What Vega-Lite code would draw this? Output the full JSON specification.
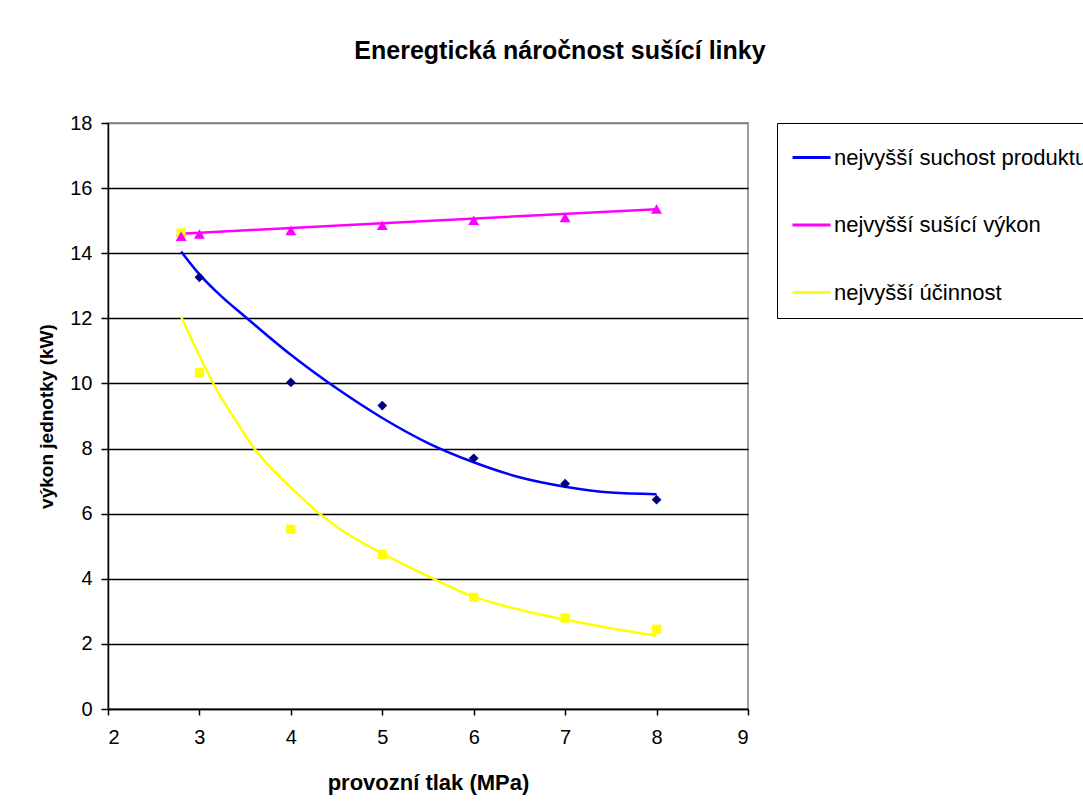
{
  "$schema": "https://vega.github.io/schema/vega-lite/v6.json",
  "width": 640,
  "height": 586,
  "autosize": "none",
  "padding": {"left": 108, "top": 123, "right": 335, "bottom": 99},
  "background": "white",
  "config": {
    "font": "Liberation Sans",
    "view": {"stroke": "#808080", "strokeWidth": 1.5}
  },
  "title": {
    "text": "Eneregtická náročnost sušící linky",
    "font": "Liberation Sans",
    "fontSize": 25,
    "fontWeight": "bold",
    "color": "black",
    "anchor": "middle",
    "frame": "group",
    "baseline": "middle",
    "offset": 37,
    "dx": 132
  },
  "datasets": {
    "pts": [
      {"series": "nejvyšší suchost produktu", "x": 2.8, "y": 14.55},
      {"series": "nejvyšší suchost produktu", "x": 3, "y": 13.26},
      {"series": "nejvyšší suchost produktu", "x": 4, "y": 10.03},
      {"series": "nejvyšší suchost produktu", "x": 5, "y": 9.32},
      {"series": "nejvyšší suchost produktu", "x": 6, "y": 7.7},
      {"series": "nejvyšší suchost produktu", "x": 7, "y": 6.92},
      {"series": "nejvyšší suchost produktu", "x": 8, "y": 6.43},
      {"series": "nejvyšší účinnost", "x": 2.8, "y": 14.62},
      {"series": "nejvyšší účinnost", "x": 3, "y": 10.33},
      {"series": "nejvyšší účinnost", "x": 4, "y": 5.52},
      {"series": "nejvyšší účinnost", "x": 5, "y": 4.75},
      {"series": "nejvyšší účinnost", "x": 6, "y": 3.43},
      {"series": "nejvyšší účinnost", "x": 7, "y": 2.79},
      {"series": "nejvyšší účinnost", "x": 8, "y": 2.45},
      {"series": "nejvyšší sušící výkon", "x": 2.8, "y": 14.52},
      {"series": "nejvyšší sušící výkon", "x": 3, "y": 14.59},
      {"series": "nejvyšší sušící výkon", "x": 4, "y": 14.7},
      {"series": "nejvyšší sušící výkon", "x": 5, "y": 14.86},
      {"series": "nejvyšší sušící výkon", "x": 6, "y": 15.01},
      {"series": "nejvyšší sušící výkon", "x": 7, "y": 15.1},
      {"series": "nejvyšší sušící výkon", "x": 8, "y": 15.36}
    ],
    "trend": [
      {"series": "nejvyšší suchost produktu", "x": 2.8, "y": 14.05},
      {"series": "nejvyšší suchost produktu", "x": 3.0, "y": 13.35},
      {"series": "nejvyšší suchost produktu", "x": 3.25, "y": 12.65},
      {"series": "nejvyšší suchost produktu", "x": 3.5, "y": 12.05},
      {"series": "nejvyšší suchost produktu", "x": 4.0, "y": 10.88},
      {"series": "nejvyšší suchost produktu", "x": 4.5, "y": 9.85},
      {"series": "nejvyšší suchost produktu", "x": 5.0, "y": 8.94},
      {"series": "nejvyšší suchost produktu", "x": 5.5, "y": 8.17},
      {"series": "nejvyšší suchost produktu", "x": 6.0, "y": 7.58},
      {"series": "nejvyšší suchost produktu", "x": 6.5, "y": 7.12},
      {"series": "nejvyšší suchost produktu", "x": 7.0, "y": 6.83},
      {"series": "nejvyšší suchost produktu", "x": 7.5, "y": 6.65},
      {"series": "nejvyšší suchost produktu", "x": 8.0, "y": 6.6},
      {"series": "nejvyšší sušící výkon", "x": 2.8, "y": 14.6},
      {"series": "nejvyšší sušící výkon", "x": 5.0, "y": 14.92},
      {"series": "nejvyšší sušící výkon", "x": 8.0, "y": 15.35},
      {"series": "nejvyšší účinnost", "x": 2.8, "y": 12.05},
      {"series": "nejvyšší účinnost", "x": 3.0, "y": 10.85},
      {"series": "nejvyšší účinnost", "x": 3.2, "y": 9.75},
      {"series": "nejvyšší účinnost", "x": 3.4, "y": 8.85},
      {"series": "nejvyšší účinnost", "x": 3.6, "y": 8.0},
      {"series": "nejvyšší účinnost", "x": 3.8, "y": 7.35},
      {"series": "nejvyšší účinnost", "x": 4.0, "y": 6.8},
      {"series": "nejvyšší účinnost", "x": 4.25, "y": 6.15},
      {"series": "nejvyšší účinnost", "x": 4.5, "y": 5.6},
      {"series": "nejvyšší účinnost", "x": 5.0, "y": 4.78},
      {"series": "nejvyšší účinnost", "x": 5.5, "y": 4.08},
      {"series": "nejvyšší účinnost", "x": 6.0, "y": 3.45},
      {"series": "nejvyšší účinnost", "x": 6.5, "y": 3.05},
      {"series": "nejvyšší účinnost", "x": 7.0, "y": 2.75},
      {"series": "nejvyšší účinnost", "x": 7.5, "y": 2.48},
      {"series": "nejvyšší účinnost", "x": 8.0, "y": 2.25}
    ]
  },
  "layer": [
    {
      "data": {"name": "trend"},
      "mark": {"type": "line", "strokeWidth": 2.5, "interpolate": "monotone"},
      "encoding": {
        "x": {
          "field": "x", "type": "quantitative",
          "scale": {"domain": [2, 9], "nice": false, "zero": false},
          "axis": {
            "values": [2, 3, 4, 5, 6, 7, 8, 9],
            "format": "d",
            "grid": false,
            "domainColor": "black", "domainWidth": 1.5,
            "tickColor": "black", "tickSize": 6, "tickWidth": 1.5,
            "labelFont": "Liberation Sans", "labelFontSize": 20, "labelColor": "black",
            "labelPadding": 12,
            "title": "provozní tlak (MPa)",
            "titleFont": "Liberation Sans", "titleFontSize": 22, "titleFontWeight": "bold", "titleColor": "black",
            "titleBaseline": "middle", "titleX": 320, "titleY": 73
          }
        },
        "y": {
          "field": "y", "type": "quantitative",
          "scale": {"domain": [0, 18], "nice": false},
          "axis": {
            "values": [0, 2, 4, 6, 8, 10, 12, 14, 16, 18],
            "format": "d",
            "grid": true,
            "gridColor": {"condition": {"test": "datum.value == 18", "value": "#808080"}, "value": "black"},
            "gridWidth": 1.5, "gridOpacity": 1,
            "domainColor": "black", "domainWidth": 1.5,
            "tickColor": "black", "tickSize": 7, "tickWidth": 1.5,
            "labelFont": "Liberation Sans", "labelFontSize": 20, "labelColor": "black",
            "labelPadding": 9,
            "title": "výkon jednotky (kW)",
            "titleFont": "Liberation Sans", "titleFontSize": 19, "titleFontWeight": "bold", "titleColor": "black",
            "titleAngle": -90, "titleBaseline": "middle", "titleX": -62, "titleY": 293
          }
        },
        "color": {
          "field": "series", "type": "nominal",
          "scale": {
            "domain": ["nejvyšší suchost produktu", "nejvyšší sušící výkon", "nejvyšší účinnost"],
            "range": ["#0000FF", "#FF00FF", "#FFFF00"]
          },
          "legend": {
            "title": null,
            "orient": "none",
            "legendX": 669,
            "legendY": 0,
            "symbolType": "stroke",
            "symbolSize": 1444,
            "symbolStrokeWidth": 3,
            "labelFont": "Liberation Sans",
            "labelFontSize": 22,
            "labelColor": "black",
            "labelOffset": 2,
            "labelLimit": 400,
            "rowPadding": 35.5,
            "padding": 14,
            "strokeColor": "black",
            "fillColor": "white"
          }
        }
      }
    },
    {
      "data": {"name": "pts"},
      "transform": [{"filter": "datum.series === 'nejvyšší suchost produktu'"}],
      "mark": {"type": "point", "shape": "diamond", "filled": true, "color": "#000080", "size": 95, "opacity": 1},
      "encoding": {
        "x": {"field": "x", "type": "quantitative"},
        "y": {"field": "y", "type": "quantitative"}
      }
    },
    {
      "data": {"name": "pts"},
      "transform": [{"filter": "datum.series === 'nejvyšší účinnost'"}],
      "mark": {"type": "point", "shape": "square", "filled": true, "color": "#FFFF00", "size": 85, "opacity": 1},
      "encoding": {
        "x": {"field": "x", "type": "quantitative"},
        "y": {"field": "y", "type": "quantitative"}
      }
    },
    {
      "data": {"name": "pts"},
      "transform": [{"filter": "datum.series === 'nejvyšší sušící výkon'"}],
      "mark": {"type": "point", "shape": "triangle-up", "filled": true, "color": "#FF00FF", "size": 120, "opacity": 1},
      "encoding": {
        "x": {"field": "x", "type": "quantitative"},
        "y": {"field": "y", "type": "quantitative"}
      }
    }
  ]
}
